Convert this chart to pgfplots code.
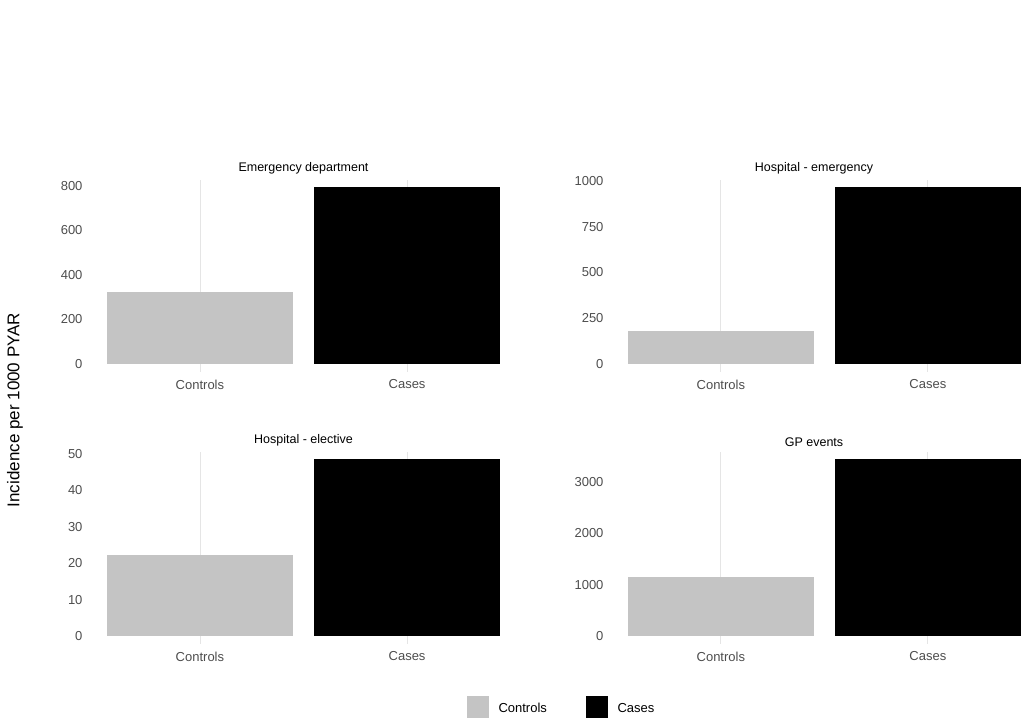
\documentclass[border=0pt]{standalone}
\usepackage{pgfplots}
\pgfplotsset{compat=1.18}
\usepackage{fontspec}
\setmainfont{Liberation Sans}
\definecolor{ctl}{HTML}{C4C4C4}
\definecolor{tk}{HTML}{4D4D4D}
\pgfplotsset{
  panel/.style={
    scale only axis, anchor=south west, width=#1,
    height=192pt, axis line style={draw=none}, tick style={draw=none},
    xtick={0,1}, xticklabels={Controls,Cases},
    xmajorgrids, major grid style={draw=black!10, line width=0.8pt},
    ymajorgrids=false,
    tick label style={font=\fontsize{13}{15}\selectfont, text=tk},
    title style={font=\fontsize{12.5}{14}\selectfont, yshift=-4pt},
    /pgf/number format/assume math mode=true,
    /pgf/number format/1000 sep={},
    ybar, bar width=0.9, bar shift=0pt,
    clip=true,
  }
}
\begin{document}
\begin{tikzpicture}
\path (0pt,0pt) rectangle (1025pt,721pt);
\begin{axis}[panel=435pt, at={(86pt,349pt)}, xmin=-0.55, xmax=1.55, ymin=-36, ymax=827,
  ytick={0,200,400,600,800}, title={Emergency department}]
\addplot[fill=ctl, draw=none] coordinates {(0,323)};
\addplot[fill=black, draw=none] coordinates {(1,797)};
\end{axis}
\begin{axis}[panel=414pt, at={(607pt,349pt)}, xmin=-0.55, xmax=1.45, ymin=-44, ymax=1005,
  ytick={0,250,500,750,1000}, title={Hospital - emergency}]
\addplot[fill=ctl, draw=none] coordinates {(0,180)};
\addplot[fill=black, draw=none] coordinates {(1,968)};
\end{axis}
\begin{axis}[panel=435pt, at={(86pt,77pt)}, xmin=-0.55, xmax=1.55, ymin=-2.2, ymax=50.5,
  ytick={0,10,20,30,40,50}, title={Hospital - elective}]
\addplot[fill=ctl, draw=none] coordinates {(0,22.3)};
\addplot[fill=black, draw=none] coordinates {(1,48.6)};
\end{axis}
\begin{axis}[panel=414pt, at={(607pt,77pt)}, xmin=-0.55, xmax=1.45, ymin=-156, ymax=3587,
  ytick={0,1000,2000,3000}, title={GP events}]
\addplot[fill=ctl, draw=none] coordinates {(0,1150)};
\addplot[fill=black, draw=none] coordinates {(1,3450)};
\end{axis}
\node[rotate=90, font=\fontsize{17}{19}\selectfont] at (15pt,311pt) {Incidence per 1000 PYAR};
\fill[ctl] (467pt,3pt) rectangle (489pt,25pt);
\node[anchor=west, font=\fontsize{13}{15}\selectfont] at (495pt,13pt) {Controls};
\fill[black] (586pt,3pt) rectangle (608pt,25pt);
\node[anchor=west, font=\fontsize{13}{15}\selectfont] at (614pt,13pt) {Cases};
\end{tikzpicture}
\end{document}
